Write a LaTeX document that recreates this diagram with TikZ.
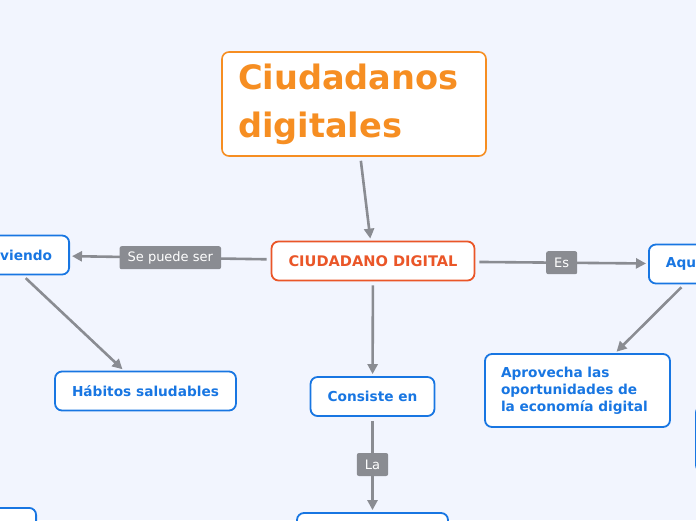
\documentclass[tikz,border=0pt]{standalone}
\usepackage{fontspec}
\setmainfont{DejaVu Sans}
\usepackage{tikz}
\usetikzlibrary{arrows.meta, positioning, calc}
\definecolor{mapbg}{RGB}{242,245,254}
\definecolor{titleorange}{RGB}{246,142,34}
\definecolor{centralred}{RGB}{234,86,40}
\definecolor{topicblue}{RGB}{24,118,226}
\definecolor{linkgray}{RGB}{138,140,146}

\begin{document}
\begin{tikzpicture}[x=1pt, y=-1pt,
  topic/.style={draw=topicblue, line width=1.8pt, fill=white, rounded corners=7pt,
    text=topicblue, font=\fontsize{13.7}{17}\selectfont\bfseries,
    minimum height=39pt, inner xsep=17pt},
  central/.style={topic, draw=centralred, text=centralred, minimum width=202pt,
    font=\fontsize{14.6}{17}\selectfont\bfseries},
  titlebox/.style={topic, draw=titleorange, text=titleorange, line width=1.6pt,
    font=\fontsize{33.6}{40}\selectfont\bfseries, align=left, text width=232pt,
    inner xsep=16pt, minimum height=104pt},
  tag/.style={fill=linkgray, text=white, rounded corners=2pt, inner xsep=8pt,
    inner ysep=0pt, minimum height=23pt, font=\fontsize{13}{15}\selectfont},
  link/.style={draw=linkgray, line width=2.6pt, shorten <=4pt, shorten >=2pt,
    -{Triangle[length=10pt, width=10pt]}}]
\useasboundingbox (0,0) rectangle (696,520);
\clip (0,0) rectangle (696,520);
\fill[mapbg] (0,0) rectangle (696,520);

% main topics
\node[titlebox] (title) at (354,104) {\vspace*{8pt}Ciudadanos\\digitales};
\node[central] (ciud) at (373,261) {CIUDADANO DIGITAL};
\node[topic, anchor=east] (prev) at (70,255) {Promoviendo};
\node[topic, anchor=west] (aquel) at (648,264) {Aquel que};
\node[topic] (habitos) at (145.5,391) {Hábitos saludables};
\node[topic] (consiste) at (372.5,396.5) {Consiste en};
\node[topic, align=left, text width=153pt, inner xsep=16pt, minimum height=73pt]
  (aprovecha) at (577.5,390.5) {Aprovecha las\\oportunidades de\\la economía digital};

% cut off at the edges
\node[topic, minimum width=151pt] (lanode) at (372.5,532.5) {};
\node[topic, anchor=north east, minimum width=120pt] (lowleft) at (37,507) {};
\node[topic, anchor=north west, minimum width=120pt, minimum height=66pt] (midright) at (695,405) {};

% links
\draw[link] (title) -- (ciud);
\draw[link] (ciud) -- node[tag] {Se puede ser} (prev);
\draw[link] (ciud) -- node[tag] {Es} (aquel);
\draw[link] (ciud) -- (consiste);
\draw[link] (consiste) -- node[tag] {La} (lanode);
\draw[link] (prev) -- (habitos);
\draw[link] (aquel) -- (aprovecha);
\end{tikzpicture}
\end{document}
